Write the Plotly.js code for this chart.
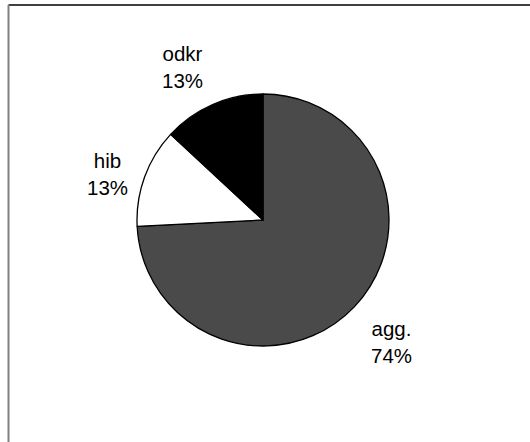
<!DOCTYPE html>
<html>
<head>
<meta charset="utf-8">
<script src="https://cdn.plot.ly/plotly-3.0.1.min.js"></script>
<style>
html,body{margin:0;padding:0;background:#fff;}
#chart{width:530px;height:442px;}
</style>
</head>
<body>
<div id="chart"></div>
<script>
const categories = ["agg.", "hib", "odkr"];
const values = [74.2, 12.7, 13.1];
const sliceColors = ["#4a4a4a", "#ffffff", "#000000"];

const W = 530, H = 442;
const cx = 263, cy = 220, r = 126;
// label block centres (pixels) for each slice, in the same order as categories
const labelPx = [[391, 342], [107, 174], [182, 67]];
const FONT = "Liberation Sans, Arial, sans-serif";

const total = values.reduce((a, b) => a + b, 0);

const trace = {
  type: "pie",
  labels: categories,
  values: values,
  sort: false,
  direction: "clockwise",
  rotation: 0,
  marker: {colors: sliceColors, line: {color: "#000000", width: 1.3}},
  textinfo: "none",
  hoverinfo: "none",
  showlegend: false,
  domain: {
    x: [(cx - r) / W, (cx + r) / W],
    y: [(H - cy - r) / H, (H - cy + r) / H]
  }
};

const annotations = categories.map((c, i) => ({
  xref: "paper", yref: "paper",
  x: labelPx[i][0] / W,
  y: 1 - labelPx[i][1] / H,
  xanchor: "center", yanchor: "middle",
  text: c + "<br>" + Math.round(values[i] / total * 100) + "%",
  showarrow: false,
  align: "center",
  font: {family: FONT, size: 20.5, color: "#000000"}
}));

const layout = {
  width: W,
  height: H,
  margin: {l: 0, r: 0, t: 0, b: 0},
  paper_bgcolor: "#ffffff",
  showlegend: false,
  annotations: annotations,
  shapes: [
    {type: "line", xref: "paper", yref: "paper", x0: 8.5 / W, x1: 1.1, y0: 1 - 5 / H, y1: 1 - 5 / H,
     line: {color: "#000000", width: 1.5}},
    {type: "line", xref: "paper", yref: "paper", x0: 8.5 / W, x1: 8.5 / W, y0: 1 - 5 / H, y1: -0.1,
     line: {color: "#808080", width: 2}}
  ]
};

Plotly.newPlot("chart", [trace], layout, {displayModeBar: false, staticPlot: true});
</script>
</body>
</html>
